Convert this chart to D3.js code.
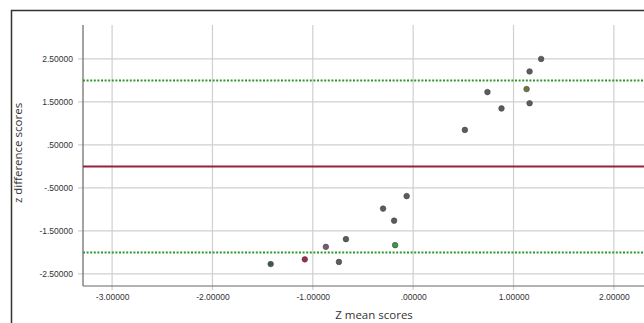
<!DOCTYPE html>
<html>
<head>
<meta charset="utf-8">
<script src="https://cdn.jsdelivr.net/npm/d3@7"></script>
<style>
  body { margin: 0; background: #fff; }
  svg { display: block; }
</style>
</head>
<body>
<svg width="644" height="323"></svg>
<script>
const width = 644;
const height = 323;

//--------------------data--------------------
const meanScores = [1.275, 1.16, 1.13, 0.74, 0.88, 1.16, 0.515, -0.065, -0.30, -0.19, -0.67, -0.87, -0.18, -1.08, -0.74, -1.42];
const diffScores = [2.50, 2.21, 1.80, 1.73, 1.35, 1.47, 0.85, -0.69, -0.98, -1.26, -1.69, -1.87, -1.83, -2.16, -2.22, -2.27];
const meanDiff = 0.0;
const upperLimit = 2.0;
const lowerLimit = -2.0;
const xTicks = [-3, -2, -1, 0, 1, 2];
const yTicks = [2.5, 1.5, 0.5, -0.5, -1.5, -2.5];

// a few points are drawn in another colour in the original
const pointColor = { 2: "#6b7a3a", 11: "#7a5a6e", 12: "#3f9a3f", 13: "#a3284f", 15: "#3e5a55" };

const svg = d3.select("svg");

const plotLeft = 83, plotRight = 644, plotTop = 25, plotBottom = 286;

const x = d3.scaleLinear().domain([-3.29, 2.3]).range([plotLeft, plotRight]);
const y = d3.scaleLinear().domain([-2.78, 3.29]).range([plotBottom, plotTop]);

// strip leading zero like SPSS: ".50000", "-.50000"
const fmt = v => v.toFixed(5).replace(/^(-?)0\./, "$1.");

//outer frame
svg.append("rect")
    .attr("x", 11.5)
    .attr("y", 10.5)
    .attr("width", 700)
    .attr("height", 400)
    .attr("fill", "none")
    .attr("stroke", "#333")
    .attr("stroke-width", 1.5);

//grid lines
svg.append("g")
    .selectAll("line")
    .data(xTicks)
    .enter()
    .append("line")
    .attr("x1", d => x(d)).attr("x2", d => x(d))
    .attr("y1", plotTop).attr("y2", plotBottom + 4)
    .attr("stroke", "#cfcfcf")
    .attr("stroke-width", 1.2);

svg.append("g")
    .selectAll("line")
    .data(yTicks)
    .enter()
    .append("line")
    .attr("x1", plotLeft - 5).attr("x2", plotRight)
    .attr("y1", d => y(d)).attr("y2", d => y(d))
    .attr("stroke", "#cfcfcf")
    .attr("stroke-width", 1.2);

//axes
const xAxis = svg.append("g")
    .attr("transform", "translate(0," + plotBottom + ")")
    .call(d3.axisBottom(x).tickValues(xTicks).tickFormat(fmt).tickSize(0).tickPadding(8));

const yAxis = svg.append("g")
    .attr("transform", "translate(" + plotLeft + ",0)")
    .call(d3.axisLeft(y).tickValues(yTicks).tickFormat(fmt).tickSize(0).tickPadding(10));

[xAxis, yAxis].forEach(g => {
    g.select(".domain").remove();
    g.selectAll("text")
        .attr("font-family", "Liberation Sans, Arial, sans-serif")
        .attr("font-size", 8.5)
        .attr("fill", "#333");
});

svg.append("line")
    .attr("x1", plotLeft).attr("x2", plotLeft)
    .attr("y1", plotTop).attr("y2", plotBottom)
    .attr("stroke", "#666").attr("stroke-width", 1.2);

svg.append("line")
    .attr("x1", plotLeft).attr("x2", plotRight)
    .attr("y1", plotBottom).attr("y2", plotBottom)
    .attr("stroke", "#666").attr("stroke-width", 1.2);

//reference lines
svg.append("line")
    .attr("x1", plotLeft).attr("x2", plotRight)
    .attr("y1", y(meanDiff)).attr("y2", y(meanDiff))
    .attr("stroke", "#98203f")
    .attr("stroke-width", 2);

[upperLimit, lowerLimit].forEach(v => {
    svg.append("line")
        .attr("x1", plotLeft).attr("x2", plotRight)
        .attr("y1", y(v)).attr("y2", y(v))
        .attr("stroke", "#2f962f")
        .attr("stroke-width", 2)
        .attr("stroke-dasharray", "2,1.6");
});

//points
svg.append("g")
    .selectAll("circle")
    .data(meanScores)
    .enter()
    .append("circle")
    .attr("cx", d => x(d))
    .attr("cy", (d, i) => y(diffScores[i]))
    .attr("r", 2.8)
    .attr("fill", (d, i) => pointColor[i] || "#5c5c5c")
    .attr("stroke", "#444")
    .attr("stroke-width", 0.6);

//axis titles
svg.append("text")
    .attr("x", 374)
    .attr("y", 319)
    .attr("text-anchor", "middle")
    .attr("font-family", "Open Sans, sans-serif")
    .attr("font-size", 11.5)
    .attr("fill", "#333")
    .text("Z mean scores");

svg.append("text")
    .attr("transform", "translate(22,153) rotate(-90)")
    .attr("text-anchor", "middle")
    .attr("font-family", "Open Sans, sans-serif")
    .attr("font-size", 11.5)
    .attr("fill", "#333")
    .text("z difference scores");
</script>
</body>
</html>
